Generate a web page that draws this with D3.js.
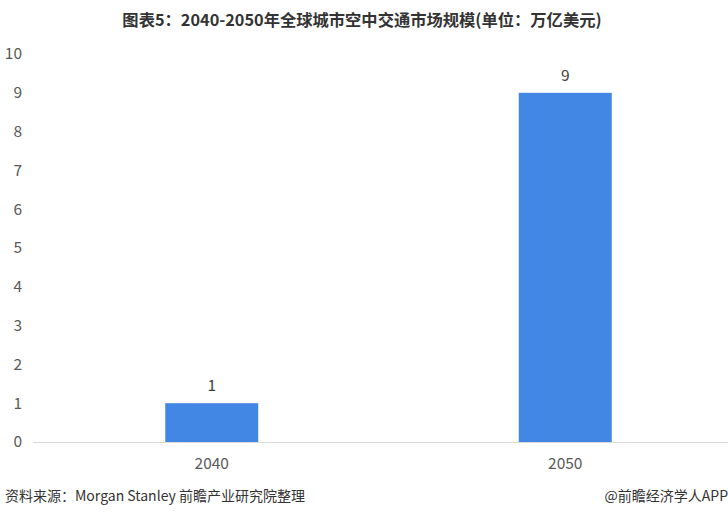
<!DOCTYPE html>
<html><head><meta charset="utf-8">
<script src="https://cdn.jsdelivr.net/npm/d3@7"></script>
<style>body{margin:0;background:#fff;}svg{display:block;font-family:"Microsoft YaHei","Noto Sans CJK SC",sans-serif;}</style>
</head><body>
<svg id="c" width="728" height="518"></svg>
<script>
const categories = ["2040", "2050"];
const values = [1, 9];
const yTicks = [0,1,2,3,4,5,6,7,8,9,10];
const title = "图表5：2040-2050年全球城市空中交通市场规模(单位：万亿美元)";
const source = "资料来源：Morgan Stanley 前瞻产业研究院整理";
const brand = "@前瞻经济学人APP";

const svg = d3.select("#c");
const x = d3.scaleBand().domain(categories).range([35, 742]);
const y = d3.scaleLinear().domain([0, 10]).range([442, 54]);
const barW = 93;

svg.append("text").attr("x", 362).attr("y", 26).attr("text-anchor", "middle")
  .attr("font-size", 16.3).attr("font-weight", "bold").attr("fill", "#333").text(title);

// y tick labels
svg.append("g").selectAll("text").data(yTicks).join("text")
  .attr("x", 22).attr("y", d => y(d)).attr("dy", "0.35em").attr("text-anchor", "end")
  .attr("font-size", 15.5).attr("fill", "#595959").text(d => d);

// baseline
svg.append("line").attr("x1", 33).attr("x2", 728).attr("y1", y(0) + 0.5).attr("y2", y(0) + 0.5)
  .attr("stroke", "#d9d9d9").attr("stroke-width", 1);

// bars
svg.append("g").selectAll("rect").data(categories).join("rect")
  .attr("x", (d) => x(d) + x.bandwidth() / 2 - barW / 2)
  .attr("y", (d, i) => y(values[i]))
  .attr("width", barW)
  .attr("height", (d, i) => y(0) - y(values[i]))
  .attr("fill", "#4287e3");

// value labels
svg.append("g").selectAll("text").data(categories).join("text")
  .attr("x", d => x(d) + x.bandwidth() / 2)
  .attr("y", (d, i) => y(values[i]) - 12)
  .attr("text-anchor", "middle").attr("font-size", 15.5).attr("fill", "#404040")
  .text((d, i) => values[i]);

// x labels
svg.append("g").selectAll("text").data(categories).join("text")
  .attr("x", d => x(d) + x.bandwidth() / 2).attr("y", 469)
  .attr("text-anchor", "middle").attr("font-size", 15.5).attr("fill", "#595959").text(d => d);

// footer
svg.append("text").attr("x", 5).attr("y", 501).attr("font-size", 14).attr("fill", "#333").text(source);
svg.append("text").attr("x", 728).attr("y", 501).attr("text-anchor", "end").attr("font-size", 14).attr("fill", "#333").text(brand);
</script>
</body></html>
